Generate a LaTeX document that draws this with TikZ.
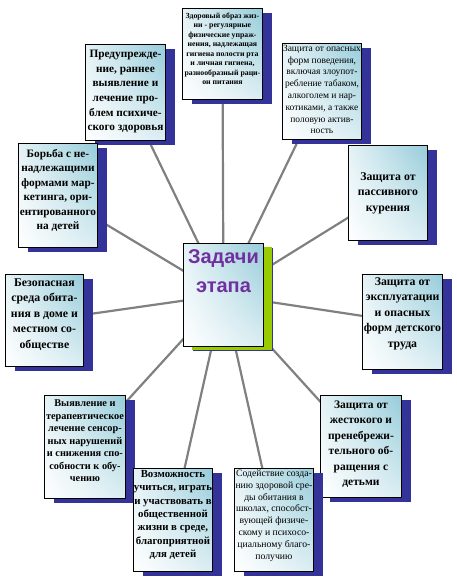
\documentclass[tikz,border=0pt]{standalone}
\usepackage{fontspec}
\setmainfont{Liberation Serif}
\newfontfamily\hubfont{Liberation Sans}
\usetikzlibrary{positioning,shadows,shadings,backgrounds}
\definecolor{shadowblue}{RGB}{51,51,153}
\definecolor{hubgreen}{RGB}{153,204,0}
\definecolor{boxteal}{RGB}{150,204,218}
\definecolor{hubpurple}{RGB}{112,48,160}
\definecolor{spokegray}{RGB}{128,128,128}
% width, height, top pad, text
\newcommand{\cardtext}[4]{\parbox[c][#2][t]{#1}{\centering\vspace*{#3}#4}}

\begin{document}
\begin{tikzpicture}[
    x=1pt, y=-1pt,
    box/.style={rectangle, draw=black, line width=0.9pt, inner sep=0pt,
                anchor=north west, shade, upper right=boxteal,
                upper left=boxteal!25!white, lower left=white,
                lower right=boxteal!35!white,
                drop shadow={shadow xshift=9.5pt, shadow yshift=-5pt,
                             fill=shadowblue, opacity=1}},
    hubbox/.style={box, drop shadow={shadow xshift=9pt, shadow yshift=-4pt,
                                     fill=hubgreen, opacity=1}},
    hubtext/.style={align=center, inner sep=0pt, text=hubpurple,
                    font=\hubfont\bfseries\fontsize{20}{29}\selectfont},
    spoke/.style={draw=spokegray, line width=2.2pt}
]
\useasboundingbox (0,0) rectangle (456,579);

% outer boxes
\node[box, font=\bfseries\fontsize{7.8}{9.5}\selectfont] (zoz) at (182,8) {\cardtext{80pt}{91pt}{4pt}{
    Здоровый образ жиз-\\ни - регулярные\\физические упраж-\\нения, надлежащая\\гигиена полости рта\\и личная гигиена,\\разнообразный раци-\\он питания}};
\node[box, font=\fontsize{9.5}{11.8}\selectfont] (opas) at (282,43) {\cardtext{79pt}{96pt}{1.5pt}{
    Защита от опасных\\форм поведения,\\включая злоупот-\\ребление табаком,\\алкоголем и нар-\\котиками, а также\\половую актив-\\ность}};
\node[box, font=\bfseries\fontsize{11.3}{14.7}\selectfont] (pred) at (85,44) {\cardtext{80pt}{96pt}{5.5pt}{
    Предупрежде-\\ние, раннее\\выявление и\\лечение про-\\блем психиче-\\ского здоровья}};
\node[box, font=\bfseries\fontsize{11.3}{14.4}\selectfont] (borba) at (18,143) {\cardtext{79pt}{104pt}{6pt}{
    Борьба с не-\\надлежащими\\формами мар-\\кетинга, ори-\\ентированного\\на детей}};
\node[box, font=\bfseries\fontsize{11.8}{15.5}\selectfont] (passiv) at (348,145) {\cardtext{79pt}{95pt}{27pt}{
    Защита от\\пассивного\\курения}};
\node[box, font=\bfseries\fontsize{11.8}{15.5}\selectfont] (bezop) at (5,274) {\cardtext{78pt}{92pt}{4pt}{
    Безопасная\\среда обита-\\ния в доме и\\местном со-\\обществе}};
\node[box, font=\bfseries\fontsize{11.8}{15.5}\selectfont] (ekspl) at (362,274) {\cardtext{80pt}{95pt}{3pt}{
    Защита от\\эксплуатации\\и опасных\\форм детского\\труда}};
\node[box, font=\bfseries\fontsize{10.3}{12.5}\selectfont] (vyyav) at (44,395) {\cardtext{81pt}{103pt}{4.5pt}{
    Выявление и\\терапевтическое\\лечение сенсор-\\ных нарушений\\и снижения спо-\\собности к обу-\\чению}};
\node[box, font=\bfseries\fontsize{11.5}{15.5}\selectfont] (zhest) at (320,395) {\cardtext{81pt}{102pt}{5pt}{
    Защита от\\жестокого и\\пренебрежи-\\тельного об-\\ращения с\\детьми}};
\node[box, font=\bfseries\fontsize{10.8}{13.3}\selectfont] (vozm) at (133,468) {\cardtext{79pt}{103pt}{2pt}{
    Возможность\\учиться, играть\\и участвовать в\\общественной\\жизни в среде,\\благоприятной\\для детей}};
\node[box, font=\fontsize{9.7}{11.8}\selectfont] (sod) at (234,468) {\cardtext{79pt}{103pt}{1.5pt}{
    Содействие созда-\\нию здоровой сре-\\ды обитания в\\школах, способст-\\вующей физиче-\\скому и психосо-\\циальному благо-\\получию}};

% centre
\node[hubbox, minimum width=80pt, minimum height=103pt] (hub) at (183,243) {};
\node[hubtext, below=6pt of hub.north] (hubtitle) {Задачи\\этапа};

\begin{scope}[on background layer]
\foreach \t in {zoz,opas,pred,borba,passiv,bezop,ekspl,vyyav,zhest,vozm,sod}
    \draw[spoke] (hub.center) -- (\t.center);
\end{scope}

\end{tikzpicture}
\end{document}
